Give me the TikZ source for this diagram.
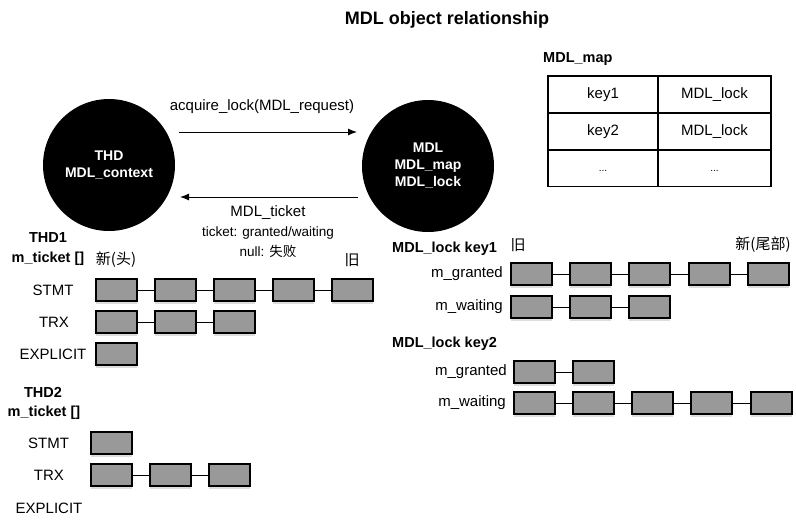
\documentclass[tikz,border=0pt]{standalone}
\usepackage{fontspec}
\setmainfont{Liberation Sans}
\newfontfamily\cjk{Noto Sans CJK SC}
\usetikzlibrary{arrows.meta,shadows}
\definecolor{boxgray}{HTML}{999999}
\definecolor{shadowgray}{HTML}{DDDDDD}
\newcommand\tktchain[5]{%
  \foreach \k [remember=\k as \p (initially 0)] in {1,...,#5}{%
    \node[tkt] (#1-\k) at ({#2+(\k-1)*#4},#3) {};
    \ifnum\k>1 \draw[link] (#1-\p.east) -- (#1-\k.west);\fi
  }%
}
\begin{document}
\begin{tikzpicture}[x=1pt,y=-1pt,
  txt/.style={font=\fontsize{15}{17}\selectfont, inner sep=0pt},
  btxt/.style={font=\fontsize{14.5}{17}\selectfont\bfseries, inner sep=0pt},
  smalltxt/.style={font=\fontsize{13.5}{16}\selectfont, inner sep=0pt},
  titletxt/.style={font=\fontsize{18}{20}\selectfont\bfseries, inner sep=0pt},
  blob/.style={circle, fill=black, minimum size=132pt, text=white,
    font=\fontsize{14}{17}\selectfont\bfseries, align=center, inner sep=0pt},
  tkt/.style={draw=black, line width=2pt, fill=boxgray, minimum width=41pt,
    minimum height=22pt, inner sep=0pt,
    drop shadow={shadow xshift=0pt, shadow yshift=-2.5pt, fill=shadowgray, opacity=1}},
  link/.style={line width=1pt},
  flow/.style={line width=1pt, -{Latex[length=9pt,width=7pt]}},
  cell/.style={draw, line width=1.5pt, minimum height=37pt, inner sep=0pt,
    font=\fontsize{15}{17}\selectfont}
]
\useasboundingbox (0,0) rectangle (796,523);

% title
\node[titletxt] (title) at (447,20) {MDL object relationship};

% circles
\node[blob] (thd) at (109,165) {THD\\MDL\_context};
\node[blob] (mdl) at (428,166) {MDL\\MDL\_map\\MDL\_lock};

% arrows
\coordinate (reqS) at (179,132);
\coordinate (reqE) at (357,132);
\coordinate (tktS) at (358,197);
\coordinate (tktE) at (180,197);
\draw[flow] (reqS) -- (reqE);
\draw[flow] (tktS) -- (tktE);
\node[txt] (reqlbl) at (262,107) {acquire\_lock(MDL\_request)};
\node[txt] (tktlbl) at (268,213) {MDL\_ticket};
\node[smalltxt] (tktst) at (268,233) {ticket: granted/waiting};
\node[smalltxt] (tktnull) at (268,251) {null: {\cjk 失败}};

% MDL_map table
\node[btxt, anchor=west] (maplbl) at (543,59) {MDL\_map};
\node[cell, minimum width=110pt] (k1) at (603,94.5) {key1};
\node[cell, minimum width=113pt] (v1) at (714.5,94.5) {MDL\_lock};
\node[cell, minimum width=110pt] (k2) at (603,131.5) {key2};
\node[cell, minimum width=113pt] (v2) at (714.5,131.5) {MDL\_lock};
\node[cell, minimum width=110pt] (k3) at (603,168) {};
\node[cell, minimum width=113pt] (v3) at (714.5,168) {};
\node[smalltxt, font=\fontsize{10}{12}\selectfont] (d1) at (603,171) {...};
\node[smalltxt, font=\fontsize{10}{12}\selectfont] (d2) at (714.5,171) {...};

% THD1
\node[btxt] (thd1) at (48,238) {THD1};
\node[btxt] (thd1m) at (48,259) {m\_ticket []};
\node[txt] (thd1new) at (116,260) {\cjk 新(头)};
\node[txt] (thd1old) at (352,260) {\cjk 旧};
\node[txt] (s1lbl) at (53,290) {STMT};
\node[txt] (t1lbl) at (54,322) {TRX};
\node[txt] (e1lbl) at (53,354) {EXPLICIT};
\tktchain{sa}{116.5}{290}{59}{5}
\tktchain{ta}{116.5}{322}{59}{3}
\tktchain{ea}{116.5}{354}{59}{1}

% THD2
\node[btxt] (thd2) at (43,392) {THD2};
\node[btxt] (thd2m) at (44,413) {m\_ticket []};
\node[txt] (s2lbl) at (48.5,443) {STMT};
\node[txt] (t2lbl) at (49,475) {TRX};
\node[txt] (e2lbl) at (49,508) {EXPLICIT};
\tktchain{sb}{111.5}{443}{59}{1}
\tktchain{tb}{111.5}{475}{59}{3}

% MDL_lock key1
\node[btxt, anchor=west] (lk1) at (392,249) {MDL\_lock key1};
\node[txt] (lk1old) at (518,245) {\cjk 旧};
\node[txt] (lk1new) at (763,245) {\cjk 新(尾部)};
\node[txt, anchor=east] (g1lbl) at (503,274) {m\_granted};
\node[txt, anchor=east] (w1lbl) at (503,307) {m\_waiting};
\tktchain{ga}{531}{274}{59.4}{5}
\tktchain{wa}{531}{307}{59.4}{3}

% MDL_lock key2
\node[btxt, anchor=west] (lk2) at (392,344) {MDL\_lock key2};
\node[txt, anchor=east] (g2lbl) at (507,372) {m\_granted};
\node[txt, anchor=east] (w2lbl) at (506,403) {m\_waiting};
\tktchain{gb}{534}{372}{59.3}{2}
\tktchain{wb}{534}{403}{59.3}{5}
\end{tikzpicture}
\end{document}
